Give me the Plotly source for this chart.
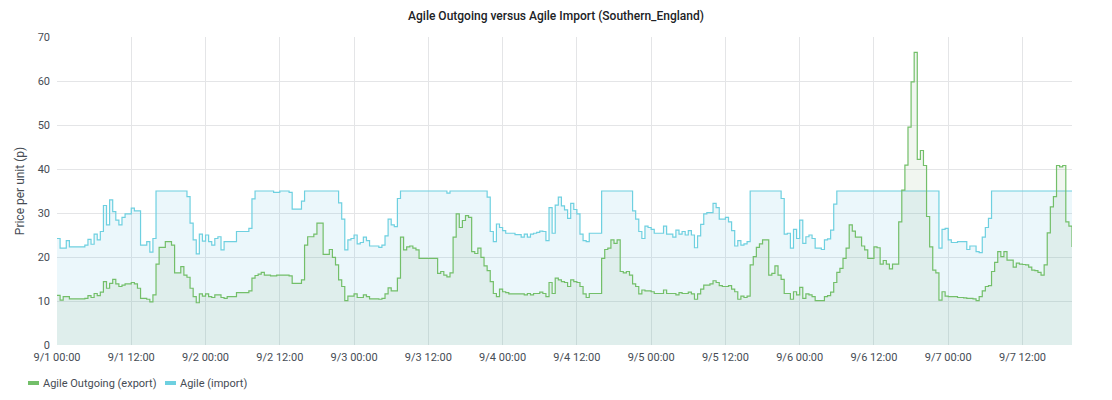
import pandas as pd
import plotly.graph_objects as go

start_time = "2023-09-01 00:00"
step = "30min"

import_price = [
    24.2, 22.0, 22.0, 23.7, 22.3, 22.3, 22.3, 22.3, 22.3, 22.7,
    24.0, 22.9, 25.2, 23.9, 25.8, 31.7, 27.3, 33.0, 30.3, 28.4,
    27.3, 29.0, 29.8, 29.8, 31.1, 30.5, 30.5, 22.7, 22.7, 23.5,
    21.1, 24.2, 35.0, 35.0, 35.0, 35.0, 35.0, 35.0, 35.0, 35.0,
    35.0, 35.0, 33.7, 27.7, 23.9, 20.7, 25.2, 23.6, 25.0, 23.5,
    22.7, 24.2, 24.6, 21.6, 23.5, 23.5, 23.5, 23.5, 25.8, 25.8,
    25.8, 25.8, 26.5, 33.2, 35.0, 35.0, 35.0, 35.0, 35.0, 35.0,
    34.7, 34.7, 35.0, 35.0, 35.0, 34.7, 30.9, 30.9, 30.9, 32.7,
    35.0, 35.0, 35.0, 35.0, 35.0, 35.0, 35.0, 35.0, 35.0, 35.0,
    35.0, 32.3, 28.6, 21.6, 23.9, 24.2, 25.0, 23.0, 23.3, 24.5,
    23.7, 22.5, 22.5, 22.5, 22.2, 22.7, 24.8, 28.6, 27.3, 26.9,
    33.3, 35.0, 35.0, 35.0, 35.0, 35.0, 35.0, 35.0, 35.0, 35.0,
    35.0, 35.0, 35.0, 35.0, 35.0, 35.0, 34.5, 35.0, 35.0, 35.0,
    35.0, 35.0, 35.0, 35.0, 35.0, 35.0, 35.0, 35.0, 35.0, 33.6,
    25.8, 23.5, 27.5, 26.7, 26.0, 25.4, 25.4, 25.4, 25.1, 25.1,
    24.5, 25.2, 24.5, 25.2, 25.4, 25.6, 25.9, 25.8, 23.7, 31.2,
    25.4, 31.8, 33.6, 31.6, 30.7, 28.8, 32.2, 30.8, 29.8, 25.2,
    23.7, 23.5, 25.4, 25.4, 25.4, 25.4, 35.0, 35.0, 35.0, 35.0,
    35.0, 35.0, 35.0, 35.0, 35.0, 35.0, 30.5, 28.6, 25.8, 24.2,
    27.0, 26.7, 26.3, 25.4, 25.4, 25.4, 27.0, 25.2, 25.2, 24.5,
    26.1, 25.2, 25.8, 25.0, 26.0, 25.0, 22.1, 24.8, 27.4, 29.8,
    30.1, 30.1, 32.2, 31.2, 28.6, 28.6, 29.0, 28.0, 26.0, 22.5,
    23.7, 22.7, 23.0, 23.5, 35.0, 35.0, 35.0, 35.0, 35.0, 35.0,
    35.0, 35.0, 35.0, 35.0, 33.3, 25.2, 25.4, 22.0, 26.3, 24.2,
    28.4, 23.1, 24.6, 25.0, 24.2, 22.0, 22.0, 21.7, 23.9, 24.1,
    26.1, 32.0, 35.0, 35.0, 35.0, 35.0, 35.0, 35.0, 35.0, 35.0,
    35.0, 35.0, 35.0, 35.0, 35.0, 35.0, 35.0, 35.0, 35.0, 35.0,
    35.0, 35.0, 35.0, 35.0, 35.0, 35.0, 35.0, 35.0, 35.0, 35.0,
    35.0, 35.0, 35.0, 35.0, 35.0, 22.0, 26.3, 26.5, 23.9, 23.3,
    23.3, 23.5, 23.5, 23.5, 21.7, 22.5, 22.5, 21.2, 21.0, 24.5,
    26.7, 28.8, 35.0, 35.0, 35.0, 35.0, 35.0, 35.0, 35.0, 35.0,
    35.0, 35.0, 35.0, 35.0, 35.0, 35.0, 35.0, 35.0, 35.0, 35.0,
    35.0, 35.0, 35.0, 35.0, 35.0, 35.0, 35.0, 35.0, 35.0,
]

export_price = [
    11.3, 10.2, 11.0, 11.0, 10.5, 10.5, 10.5, 10.5, 10.5, 10.6,
    11.2, 10.8, 11.7, 11.2, 12.0, 14.4, 12.9, 14.0, 14.9, 13.9,
    13.3, 13.6, 13.9, 13.9, 14.2, 13.9, 12.9, 10.6, 10.6, 10.4,
    9.8, 11.4, 18.4, 22.2, 22.2, 23.5, 23.5, 22.7, 16.4, 16.4,
    17.8, 15.9, 15.4, 12.9, 11.0, 9.6, 11.6, 11.1, 11.6, 11.0,
    10.8, 11.4, 11.4, 10.8, 10.6, 11.0, 11.0, 11.0, 11.9, 11.9,
    11.9, 11.9, 12.3, 15.2, 15.8, 16.1, 16.5, 15.9, 15.9, 15.7,
    15.7, 15.9, 15.9, 15.9, 15.9, 15.7, 14.0, 14.0, 14.0, 14.8,
    22.7, 24.6, 24.6, 25.2, 27.7, 27.7, 20.6, 20.6, 21.7, 19.9,
    18.2, 14.8, 13.3, 10.1, 11.1, 11.1, 11.6, 10.8, 10.8, 11.4,
    11.0, 10.5, 10.5, 10.5, 10.4, 10.6, 11.6, 13.0, 12.3, 12.3,
    15.2, 24.5, 21.6, 22.3, 22.5, 22.0, 21.6, 19.7, 19.7, 19.7,
    19.7, 19.7, 19.7, 16.3, 16.7, 15.9, 15.5, 16.4, 24.5, 29.8,
    26.7, 28.3, 29.4, 29.0, 21.2, 20.8, 22.0, 19.9, 18.0, 16.9,
    14.4, 11.7, 11.0, 12.7, 12.1, 11.9, 11.6, 11.6, 11.6, 11.6,
    11.6, 11.4, 11.7, 11.4, 11.7, 11.7, 12.0, 11.7, 11.0, 14.2,
    11.7, 15.2, 14.8, 14.4, 14.2, 13.3, 14.8, 14.4, 14.2, 13.3,
    11.6, 10.8, 11.7, 11.7, 11.7, 11.7, 19.7, 21.7, 22.0, 23.9,
    23.1, 23.9, 16.7, 16.4, 16.7, 15.9, 13.9, 13.3, 11.6, 12.5,
    12.3, 12.3, 12.1, 11.7, 11.7, 11.7, 12.5, 11.7, 11.7, 11.7,
    11.4, 11.9, 11.7, 11.7, 12.0, 11.6, 10.4, 11.6, 12.7, 13.6,
    13.6, 13.9, 14.6, 14.2, 13.5, 13.3, 13.3, 13.5, 12.7, 12.1,
    10.4, 11.1, 10.8, 11.1, 18.2, 20.1, 22.2, 23.0, 23.9, 23.9,
    15.9, 16.3, 18.0, 15.9, 14.9, 11.7, 11.7, 10.4, 12.1, 11.4,
    13.1, 10.6, 11.6, 11.4, 11.0, 10.1, 10.1, 10.1, 11.0, 11.2,
    12.0, 14.2, 16.5, 17.4, 19.7, 22.0, 27.3, 25.9, 24.5, 24.5,
    22.5, 21.6, 19.7, 19.7, 22.3, 22.1, 18.4, 19.2, 18.4, 17.3,
    18.4, 18.4, 28.0, 35.2, 40.9, 49.5, 59.8, 66.5, 42.2, 44.2,
    40.8, 29.2, 22.3, 17.0, 16.4, 10.2, 12.1, 11.1, 11.0, 11.0,
    11.0, 10.8, 10.8, 10.7, 10.6, 10.6, 10.5, 10.1, 11.0, 12.3,
    13.3, 13.5, 16.7, 18.8, 21.2, 20.1, 21.2, 19.3, 19.3, 17.7,
    18.6, 18.4, 18.3, 18.2, 17.7, 17.0, 16.9, 16.5, 15.9, 18.2,
    25.5, 31.4, 33.7, 40.8, 40.5, 40.8, 28.0, 27.0, 22.3,
]

series_names = ["Agile Outgoing (export)", "Agile (import)"]
y_ticks = [0, 10, 20, 30, 40, 50, 60, 70]

times = pd.date_range(start_time, periods=len(import_price), freq=step)

GREEN = "#73BF69"
CYAN = "#6ED0E0"
FONT = "Roboto"
TEXT = "#464c54"

fig = go.Figure()
fig.add_trace(go.Scatter(
    x=times, y=import_price, mode="lines", line_shape="hv",
    line=dict(color=CYAN, width=1.2), fill="tozeroy",
    fillcolor="rgba(110,200,228,0.14)", name=series_names[1], showlegend=False,
))
fig.add_trace(go.Scatter(
    x=times, y=export_price, mode="lines", line_shape="hv",
    line=dict(color=GREEN, width=1.2), fill="tozeroy",
    fillcolor="rgba(115,170,105,0.10)", name=series_names[0], showlegend=False,
))

# Grafana-style legend below the plot: short thick keys + labels
PLOT_L, PLOT_W = 57, 1015
PLOT_B, PLOT_H = 345, 308
def px_x(px):
    return (px - PLOT_L) / PLOT_W
def px_y(py):
    return (PLOT_B - py) / PLOT_H

legend_items = [(series_names[0], GREEN, 28), (series_names[1], CYAN, 165)]
shapes = []
annotations = []
for label, color, left in legend_items:
    shapes.append(dict(type="line", xref="paper", yref="paper",
                       x0=px_x(left), x1=px_x(left + 11), y0=px_y(383), y1=px_y(383),
                       line=dict(color=color, width=4)))
    annotations.append(dict(text=label, xref="paper", yref="paper",
                            x=px_x(left + 13), y=px_y(383), xanchor="left", yanchor="middle",
                            showarrow=False, font=dict(family=FONT, size=11, color=TEXT)))

fig.update_layout(
    width=1112, height=400,
    margin=dict(l=57, r=40, t=37, b=55),
    paper_bgcolor="white", plot_bgcolor="white",
    font=dict(family=FONT, size=11, color=TEXT),
    title=dict(text="Agile Outgoing versus Agile Import (Southern_England)",
               x=0.5, xref="container", xanchor="center",
               y=1 - 16 / 400, yref="container", yanchor="middle",
               font=dict(family=FONT, size=12, color="#202226", weight=500)),
    showlegend=False,
    shapes=shapes,
    annotations=annotations,
)
fig.update_xaxes(
    type="date", range=[times[0], times[-1]], automargin=False,
    tickformat="%-m/%-d %H:%M", dtick=12 * 3600 * 1000, tick0=times[0],
    showgrid=True, gridcolor="#e4e5e7", gridwidth=1,
    zeroline=False, showline=False, ticks="", ticklen=0, ticklabelstandoff=4,
    tickfont=dict(family=FONT, size=11, color=TEXT),
)
fig.update_yaxes(
    range=[0, 70], tickvals=y_ticks, automargin=False,
    showgrid=True, gridcolor="#e4e5e7", gridwidth=1,
    zeroline=False, showline=False, ticks="", ticklen=0, ticklabelstandoff=6,
    title=dict(text="Price per unit (p)", standoff=10,
               font=dict(family=FONT, size=12, color=TEXT)),
    tickfont=dict(family=FONT, size=11, color=TEXT),
)

fig.write_html(
    "out.html",
    config={"displayModeBar": False},
    post_script="document.body.style.margin='0';document.body.style.overflow='hidden';",
)
